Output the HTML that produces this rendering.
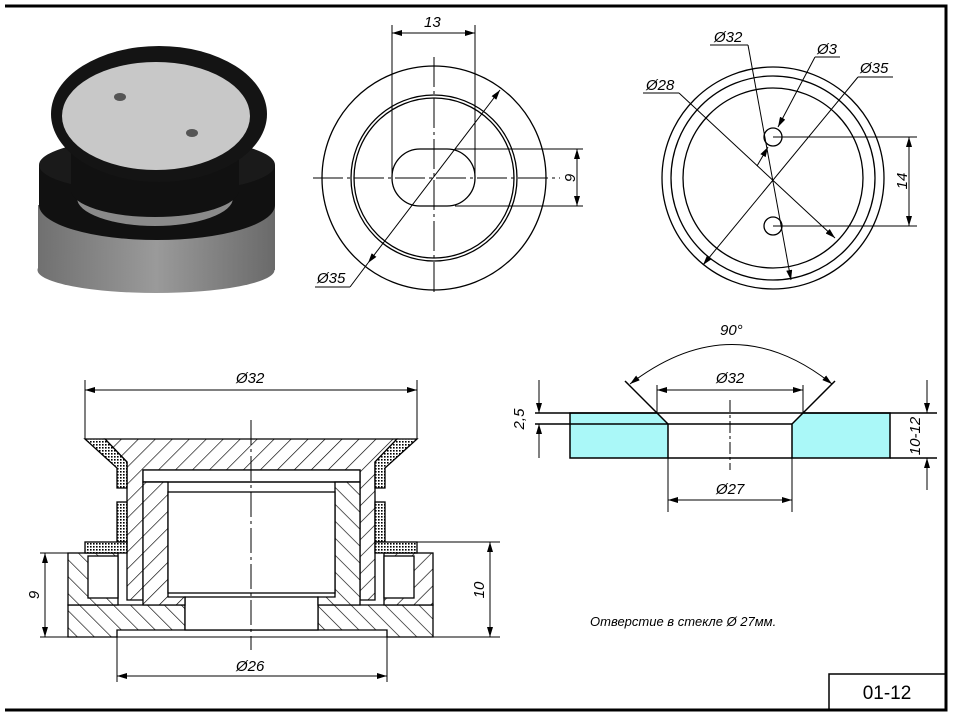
<!DOCTYPE html>
<html><head><meta charset="utf-8"><style>
html,body{margin:0;padding:0;background:#fff}
svg{display:block}
text{font-family:"Liberation Sans",sans-serif;font-style:italic;font-size:15px;fill:#000}
</style></head><body>
<svg width="957" height="720" viewBox="0 0 957 720" xmlns="http://www.w3.org/2000/svg">
<defs>
<marker id="a" viewBox="0 0 10 6" refX="10" refY="3" markerWidth="10" markerHeight="6" orient="auto-start-reverse" markerUnits="userSpaceOnUse"><path d="M0,0 L10,3 L0,6z" fill="#000"/></marker>
<pattern id="h1" width="12" height="12" patternUnits="userSpaceOnUse" patternTransform="rotate(45)"><rect width="12" height="12" fill="#fff"/><line x1="0" y1="0" x2="0" y2="12" stroke="#000" stroke-width="1.3"/></pattern>
<pattern id="h2" width="12" height="12" patternUnits="userSpaceOnUse" patternTransform="rotate(-45)"><rect width="12" height="12" fill="#fff"/><line x1="0" y1="0" x2="0" y2="12" stroke="#000" stroke-width="1.3"/></pattern>
<pattern id="dt" width="3" height="3" patternUnits="userSpaceOnUse"><rect width="3" height="3" fill="#fff"/><rect width="1.6" height="1.6" fill="#000"/></pattern>
<linearGradient id="gb" x1="0" x2="1"><stop offset="0" stop-color="#707070"/><stop offset="0.5" stop-color="#9a9a9a"/><stop offset="1" stop-color="#6a6a6a"/></linearGradient>
</defs>
<!-- frame -->
<polyline points="5,6 946,6 946,710 5,710" fill="none" stroke="#000" stroke-width="3"/>
<rect x="829" y="674" width="117" height="36" fill="none" stroke="#000" stroke-width="1.5"/>
<text x="887" y="699" text-anchor="middle" style="font-style:normal;font-size:19px">01-12</text>

<!-- 3D render -->
<g>
<rect x="38" y="205" width="237" height="65" fill="url(#gb)"/>
<ellipse cx="156" cy="270" rx="118.5" ry="23" fill="url(#gb)"/>
<ellipse cx="157" cy="205" rx="118" ry="35" fill="#111"/>
<rect x="39" y="165" width="236" height="40" fill="#111"/>
<ellipse cx="157" cy="165" rx="118" ry="28" fill="#1a1a1a"/>
<ellipse cx="155" cy="198" rx="78" ry="28" fill="#8a8a8a"/>
<ellipse cx="155" cy="190" rx="84" ry="27" fill="#111"/>
<rect x="71" y="130" width="168" height="60" fill="#111"/>
<ellipse cx="159" cy="114" rx="108" ry="68" fill="#141414"/>
<ellipse cx="156" cy="116" rx="94" ry="54" fill="#c8c8c8"/>
<ellipse cx="120" cy="97" rx="6" ry="4" fill="#555"/>
<ellipse cx="192" cy="133" rx="6" ry="4" fill="#555"/>
</g>

<!-- top middle view -->
<g fill="none" stroke="#000" stroke-width="1.3">
<circle cx="434" cy="178" r="112"/>
<circle cx="434" cy="178" r="83"/>
<circle cx="434" cy="178" r="80"/>
<rect x="392" y="149" width="83" height="57" rx="28" ry="28"/>
<g stroke-width="1">
<line x1="392" y1="25" x2="392" y2="178"/><line x1="475" y1="25" x2="475" y2="178"/>
<line x1="392" y1="33" x2="475" y2="33" marker-start="url(#a)" marker-end="url(#a)"/>
<line x1="455" y1="149" x2="583" y2="149"/><line x1="455" y1="206" x2="583" y2="206"/>
<line x1="577" y1="149" x2="577" y2="206" marker-start="url(#a)" marker-end="url(#a)"/>
<line x1="313" y1="178" x2="560" y2="178" stroke-dasharray="30,4,3,4"/>
<line x1="434" y1="57" x2="434" y2="296" stroke-dasharray="30,4,3,4"/>
<line x1="500" y1="90" x2="368" y2="263" marker-start="url(#a)" marker-end="url(#a)"/>
<line x1="368" y1="263" x2="350" y2="287"/><line x1="315" y1="287" x2="350" y2="287"/>
</g>
</g>
<text x="424" y="27">13</text>
<text x="575" y="178" transform="rotate(-90 575 178)" text-anchor="middle">9</text>
<text x="317" y="283">Ø35</text>

<!-- top right view -->
<g fill="none" stroke="#000" stroke-width="1.3">
<circle cx="773" cy="178" r="111"/>
<circle cx="773" cy="178" r="102"/>
<circle cx="773" cy="178" r="90"/>
<circle cx="773" cy="137" r="9"/>
<circle cx="773" cy="226" r="9"/>
<g stroke-width="1">
<line x1="773" y1="137" x2="917" y2="137"/><line x1="773" y1="226" x2="917" y2="226"/>
<line x1="909" y1="137" x2="909" y2="226" marker-start="url(#a)" marker-end="url(#a)"/>
<line x1="643" y1="93" x2="679" y2="93"/><line x1="679" y1="93" x2="835" y2="238" marker-end="url(#a)"/>
<line x1="710" y1="45" x2="748" y2="45"/><line x1="748" y1="45" x2="791" y2="280" marker-end="url(#a)"/>
<line x1="815" y1="57" x2="840" y2="57"/><line x1="815" y1="57" x2="778" y2="127" marker-end="url(#a)"/>
<line x1="757" y1="166" x2="768" y2="147" marker-end="url(#a)"/>
<line x1="858" y1="77" x2="893" y2="77"/><line x1="858" y1="77" x2="703" y2="265" marker-end="url(#a)"/>
</g>
</g>
<text x="714" y="42">Ø32</text>
<text x="817" y="54">Ø3</text>
<text x="860" y="73">Ø35</text>
<text x="646" y="90">Ø28</text>
<text x="907" y="181" transform="rotate(-90 907 181)" text-anchor="middle">14</text>

<!-- cross section -->
<g stroke="#000" stroke-width="1.3">
<path d="M68,605 H433 V637 H387 V630 H117 V637 H68 Z M185,605 V630 H318 V605 Z" fill="url(#h2)" fill-rule="evenodd"/>
<rect x="185" y="597" width="133" height="33" fill="#fff"/>
<rect x="68" y="553" width="50" height="52" fill="url(#h2)"/>
<rect x="88" y="556" width="30" height="42" fill="#fff"/>
<rect x="384" y="553" width="49" height="52" fill="url(#h1)"/>
<rect x="384" y="556" width="30" height="42" fill="#fff"/>
<path d="M105,439 H397 L375,462 V600 H360 V470 H143 V600 H127 V462 Z" fill="url(#h1)"/>
<path d="M85,439 H105 L127,462 V488 H117 V468 Z" fill="url(#dt)"/>
<path d="M417,439 H397 L375,462 V488 H385 V468 Z" fill="url(#dt)"/>
<rect x="117" y="502" width="10" height="40" fill="url(#dt)"/>
<rect x="375" y="502" width="10" height="40" fill="url(#dt)"/>
<rect x="85" y="542" width="42" height="11" fill="url(#dt)"/>
<rect x="375" y="542" width="42" height="11" fill="url(#dt)"/>
<rect x="143" y="470" width="217" height="12" fill="#fff"/>
<path d="M143,482 H168 V597 H185 V605 H143 Z" fill="url(#h1)"/>
<path d="M360,482 H335 V597 H318 V605 H360 Z" fill="url(#h2)"/>
<rect x="168" y="492" width="167" height="101" fill="#fff"/>
<line x1="143" y1="482" x2="360" y2="482"/>
</g>
<g stroke="#000" stroke-width="1" fill="none">
<line x1="85" y1="380" x2="85" y2="439"/><line x1="417" y1="380" x2="417" y2="439"/>
<line x1="85" y1="390" x2="417" y2="390" marker-start="url(#a)" marker-end="url(#a)"/>
<line x1="251" y1="420" x2="251" y2="650" stroke-dasharray="25,4,3,4"/>
<line x1="40" y1="553" x2="68" y2="553"/><line x1="40" y1="637" x2="500" y2="637"/>
<line x1="45" y1="553" x2="45" y2="637" marker-start="url(#a)" marker-end="url(#a)"/>
<line x1="417" y1="542" x2="500" y2="542"/>
<line x1="490" y1="542" x2="490" y2="637" marker-start="url(#a)" marker-end="url(#a)"/>
<line x1="117" y1="630" x2="117" y2="682"/><line x1="387" y1="630" x2="387" y2="682"/>
<line x1="117" y1="676" x2="387" y2="676" marker-start="url(#a)" marker-end="url(#a)"/>
</g>
<text x="236" y="383">Ø32</text>
<text x="236" y="671">Ø26</text>
<text x="39" y="595" transform="rotate(-90 39 595)" text-anchor="middle">9</text>
<text x="484" y="590" transform="rotate(-90 484 590)" text-anchor="middle">10</text>

<!-- glass -->
<g stroke="#000" stroke-width="1.5">
<path d="M570,413 H657 L668,424 V458 H570 Z" fill="#aaf8f8"/>
<path d="M890,413 H803 L792,424 V458 H890 Z" fill="#aaf8f8"/>
<line x1="535" y1="413" x2="937" y2="413"/>
<line x1="535" y1="424" x2="668" y2="424"/>
<line x1="668" y1="424" x2="792" y2="424"/>
<line x1="668" y1="458" x2="792" y2="458"/>
<line x1="890" y1="458" x2="937" y2="458"/>
<line x1="657" y1="413" x2="625" y2="381"/><line x1="803" y1="413" x2="835" y2="381"/>
</g>
<g stroke="#000" stroke-width="1" fill="none">
<path d="M630,384 Q733,305 832,384" marker-start="url(#a)" marker-end="url(#a)"/>
<line x1="657" y1="390" x2="803" y2="390" marker-start="url(#a)" marker-end="url(#a)"/>
<line x1="657" y1="385" x2="657" y2="413"/><line x1="803" y1="385" x2="803" y2="413"/>
<line x1="668" y1="458" x2="668" y2="512"/><line x1="792" y1="458" x2="792" y2="512"/>
<line x1="668" y1="500" x2="792" y2="500" marker-start="url(#a)" marker-end="url(#a)"/>
<line x1="730" y1="400" x2="730" y2="470" stroke-dasharray="12,3,3,3"/>
<line x1="539" y1="380" x2="539" y2="413" marker-end="url(#a)"/>
<line x1="539" y1="458" x2="539" y2="424" marker-end="url(#a)"/>
<line x1="927" y1="380" x2="927" y2="413" marker-end="url(#a)"/>
<line x1="927" y1="490" x2="927" y2="458" marker-end="url(#a)"/>
</g>
<text x="720" y="335">90°</text>
<text x="716" y="383">Ø32</text>
<text x="716" y="494">Ø27</text>
<text x="524" y="419" transform="rotate(-90 524 419)" text-anchor="middle">2,5</text>
<text x="920" y="436" transform="rotate(-90 920 436)" text-anchor="middle">10-12</text>
<text x="590" y="626" style="font-size:13px">Отверстие в стекле Ø 27мм.</text>
</svg>
</body></html>
